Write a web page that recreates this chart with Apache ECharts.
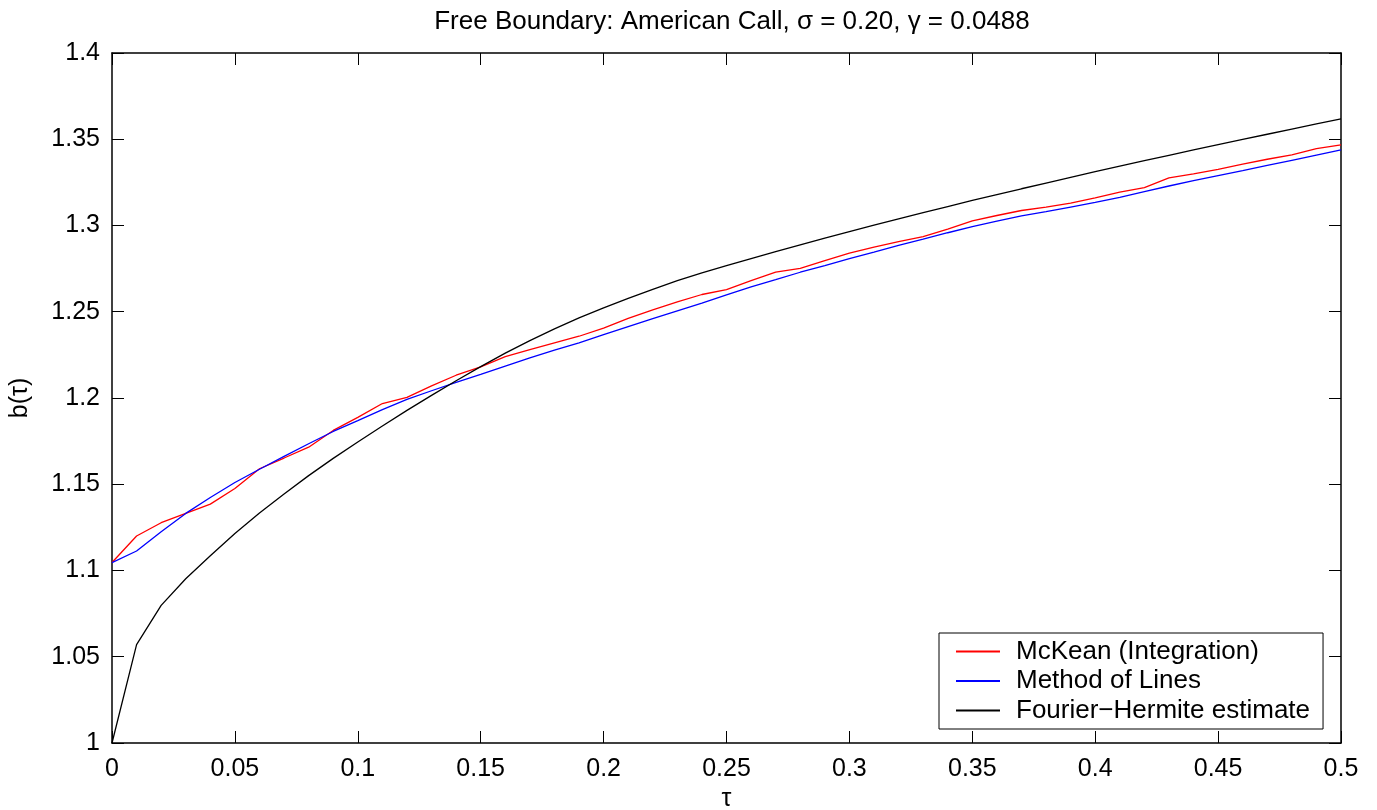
<!DOCTYPE html>
<html>
<head>
<meta charset="utf-8">
<script src="https://cdn.jsdelivr.net/npm/echarts@6/dist/echarts.min.js"></script>
<style>
html,body{margin:0;padding:0;background:#fff;}
#chart{width:1377px;height:810px;}
</style>
</head>
<body>
<div id="chart"></div>
<script>
const tau = [0.00,0.01,0.02,0.03,0.04,0.05,0.06,0.07,0.08,0.09,
             0.10,0.11,0.12,0.13,0.14,0.15,0.16,0.17,0.18,0.19,
             0.20,0.21,0.22,0.23,0.24,0.25,0.26,0.27,0.28,0.29,
             0.30,0.31,0.32,0.33,0.34,0.35,0.36,0.37,0.38,0.39,
             0.40,0.41,0.42,0.43,0.44,0.45,0.46,0.47,0.48,0.49,0.50];

const mckean = [1.1046,1.1200,1.1277,1.1331,1.1385,1.1475,1.1590,1.1652,1.1715,1.1812,
                1.1888,1.1968,1.2004,1.2070,1.2132,1.2180,1.2240,1.2281,1.2320,1.2358,
                1.2405,1.2462,1.2511,1.2557,1.2600,1.2628,1.2680,1.2730,1.2752,1.2796,
                1.2840,1.2875,1.2906,1.2935,1.2979,1.3027,1.3058,1.3087,1.3106,1.3130,
                1.3160,1.3193,1.3220,1.3276,1.3299,1.3326,1.3356,1.3384,1.3410,1.3446,1.3467];

const methodOfLines = [1.1046,1.1113,1.1225,1.1331,1.1423,1.1510,1.1587,1.1662,1.1735,1.1806,
                       1.1869,1.1933,1.1992,1.2042,1.2090,1.2137,1.2185,1.2232,1.2277,1.2320,
                       1.2367,1.2414,1.2460,1.2505,1.2550,1.2598,1.2644,1.2686,1.2729,1.2768,
                       1.2808,1.2846,1.2885,1.2921,1.2958,1.2994,1.3026,1.3056,1.3080,1.3107,
                       1.3134,1.3163,1.3196,1.3229,1.3260,1.3289,1.3318,1.3348,1.3378,1.3408,1.3438];

const fourierHermite = [1.0000,1.0570,1.0798,1.0952,1.1085,1.1215,1.1333,1.1443,1.1550,1.1650,
                        1.1745,1.1838,1.1928,1.2015,1.2100,1.2182,1.2260,1.2333,1.2401,1.2464,
                        1.2522,1.2577,1.2630,1.2680,1.2725,1.2767,1.2808,1.2848,1.2888,1.2927,
                        1.2965,1.3002,1.3039,1.3075,1.3110,1.3145,1.3179,1.3213,1.3246,1.3279,
                        1.3312,1.3344,1.3376,1.3407,1.3438,1.3469,1.3499,1.3529,1.3559,1.3589,1.3618];

const seriesNames = ['McKean (Integration)', 'Method of Lines', 'Fourier\u2212Hermite estimate'];
const titleText = 'Free Boundary: American Call, \u03c3 = 0.20, \u03b3 = 0.0488';
const xName = '\u03c4';
const yName = 'b(\u03c4)';

const FONT = "'Liberation Sans', Arial, Helvetica, sans-serif";
const pairs = (ys) => tau.map((t, i) => [t, ys[i]]);

const chart = echarts.init(document.getElementById('chart'), null, {renderer: 'canvas'});

const axisCommon = {
  type: 'value',
  splitLine: {show: false},
  axisLine: {show: true, onZero: false, lineStyle: {color: '#000', width: 1.5}},
  axisTick: {show: true, inside: true, length: 12, lineStyle: {color: '#000', width: 1}},
};

chart.setOption({
  animation: false,
  backgroundColor: '#fff',
  title: {
    text: titleText,
    left: 727, top: 4, textAlign: 'center',
    textStyle: {fontFamily: FONT, fontSize: 26, fontWeight: 'normal', color: '#000'}
  },
  grid: {left: 112, right: 36, top: 53, bottom: 67, containLabel: false, outerBoundsMode: 'none'},
  legend: {
    data: seriesNames,
    orient: 'vertical',
    left: 939, top: 633,
    backgroundColor: '#fff',
    borderColor: '#000', borderWidth: 1,
    padding: [5.5, 13, 5.5, 16],
    itemWidth: 44, itemHeight: 14, itemGap: 3.5,
    itemStyle: {opacity: 0},
    textStyle: {fontFamily: FONT, fontSize: 26, color: '#000', lineHeight: 26, padding: [0,0,0,11]}
  },
  xAxis: [
    Object.assign({}, axisCommon, {
      min: 0, max: 0.5, interval: 0.05, position: 'bottom',
      name: xName, nameLocation: 'middle', nameGap: 40,
      nameTextStyle: {fontFamily: FONT, fontSize: 25, color: '#000'},
      axisLabel: {fontFamily: FONT, fontSize: 25, color: '#000', margin: 14}
    }),
    Object.assign({}, axisCommon, {
      min: 0, max: 0.5, interval: 0.05, position: 'top',
      axisLabel: {show: false}
    })
  ],
  yAxis: [
    Object.assign({}, axisCommon, {
      min: 1, max: 1.4, interval: 0.05, position: 'left',
      name: yName, nameLocation: 'middle', nameGap: 79, nameRotate: 90,
      nameTextStyle: {fontFamily: FONT, fontSize: 25, color: '#000'},
      axisLabel: {fontFamily: FONT, fontSize: 25, color: '#000', margin: 12}
    }),
    Object.assign({}, axisCommon, {
      min: 1, max: 1.4, interval: 0.05, position: 'right',
      axisLabel: {show: false}
    })
  ],
  series: [
    {name: seriesNames[0], type: 'line', data: pairs(mckean), symbol: 'none',
     lineStyle: {color: '#ff0000', width: 1.3}, itemStyle: {color: '#ff0000'}},
    {name: seriesNames[1], type: 'line', data: pairs(methodOfLines), symbol: 'none',
     lineStyle: {color: '#0000ff', width: 1.3}, itemStyle: {color: '#0000ff'}},
    {name: seriesNames[2], type: 'line', data: pairs(fourierHermite), symbol: 'none',
     lineStyle: {color: '#000000', width: 1.3}, itemStyle: {color: '#000000'}}
  ]
});
</script>
</body>
</html>
